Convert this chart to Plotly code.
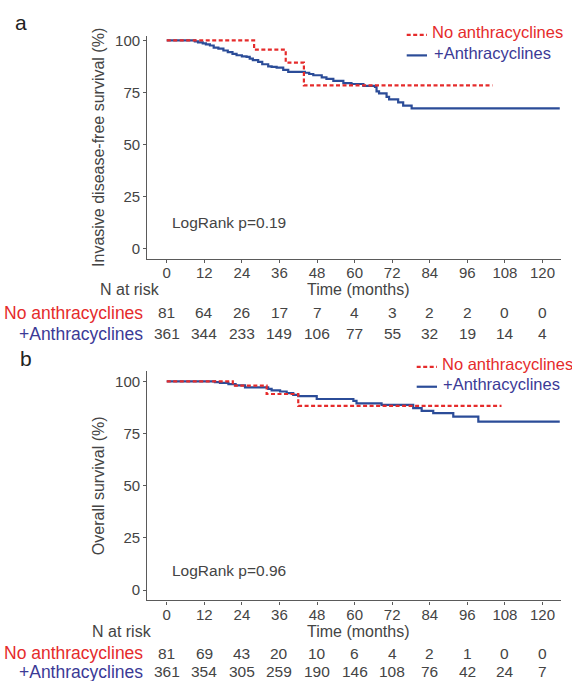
import plotly.graph_objects as go

W, H = 572, 681
FONT = "Liberation Sans, Arial, sans-serif"
RED = "#e52b2b"
BLUE_LINE = "#2b4c98"
BLUE_TXT = "#3b3a96"
GREY = "#444444"

# ---------------- data ----------------
tick_months = [0, 12, 24, 36, 48, 60, 72, 84, 96, 108, 120]

# Panel a: invasive disease-free survival
a_no_t = [0, 27.9, 38.0, 43.8, 104.0]
a_no_s = [100, 95.5, 89.3, 78.3, 78.3]
a_anth_t = [0, 9.0, 10.0, 11.5, 12.5, 13.8, 15.0, 16.5, 18.1, 19.5, 21.0, 22.3, 24.0,
            25.5, 26.5, 27.5, 29.2, 30.5, 32.4, 33.5, 35.1, 37.2, 38.8, 44.1, 45.5,
            46.8, 49.5, 51.0, 53.2, 56.4, 59.0, 62.8, 66.5, 67.0, 67.8, 70.2, 71.0,
            73.9, 75.5, 78.2, 125.5]
a_anth_s = [100, 99.5, 99.0, 98.5, 98.0, 97.5, 96.5, 96.0, 95.1, 94.3, 93.5, 92.8, 92.3,
            92.0, 91.2, 90.5, 89.6, 88.5, 87.5, 87.2, 86.9, 85.8, 84.8, 84.4, 83.8,
            83.2, 82.2, 81.5, 80.5, 79.4, 79.0, 78.1, 77.6, 75.5, 74.5, 72.8, 71.6,
            70.2, 68.6, 67.3, 67.3]

# Panel b: overall survival
b_no_t = [0, 21.1, 31.9, 42.0, 106.9]
b_no_s = [100, 97.9, 93.9, 88.2, 88.2]
b_anth_t = [0, 15.4, 17.0, 19.7, 22.0, 25.0, 32.4, 33.5, 36.2, 38.3, 40.4, 42.0, 47.9,
            59.6, 60.6, 68.6, 78.7, 81.4, 85.1, 91.5, 99.5, 125.5]
b_anth_s = [100, 99.6, 99.2, 98.6, 98.0, 97.1, 96.4, 95.6, 95.1, 94.3, 93.5, 92.9, 91.5,
            90.6, 89.4, 88.7, 87.1, 85.8, 84.7, 83.1, 80.7, 80.7]

risk_a_no = [81, 64, 26, 17, 7, 4, 3, 2, 2, 0, 0]
risk_a_anth = [361, 344, 233, 149, 106, 77, 55, 32, 19, 14, 4]
risk_b_no = [81, 69, 43, 20, 10, 6, 4, 2, 1, 0, 0]
risk_b_anth = [361, 354, 305, 259, 190, 146, 108, 76, 42, 24, 7]

group_names = ["No anthracyclines", "+Anthracyclines"]
y_titles = ["Invasive disease-free survival (%)", "Overall survival (%)"]
pvals = ["LogRank p=0.19", "LogRank p=0.96"]

# ---------------- helpers ----------------
def px(x):
    return x / W

def py(y):
    return 1 - y / H

fig = go.Figure()

def km(t, s, color, dash, xa, ya):
    fig.add_trace(go.Scatter(
        x=t, y=s, mode="lines", line_shape="hv",
        line=dict(color=color, width=2.2, dash=dash),
        xaxis=xa, yaxis=ya, showlegend=False, hoverinfo="skip"))

km(a_anth_t, a_anth_s, BLUE_LINE, "solid", "x", "y")
km(a_no_t, a_no_s, RED, "4px,2.5px", "x", "y")
km(b_anth_t, b_anth_s, BLUE_LINE, "solid", "x2", "y2")
km(b_no_t, b_no_s, RED, "4px,2.5px", "x2", "y2")

axis_common = dict(
    showline=True, linecolor="#5a5a5a", linewidth=1.3, showgrid=False, zeroline=False,
    ticks="outside", ticklen=3, tickwidth=1, tickcolor="#5a5a5a",
    tickfont=dict(family=FONT, size=15, color=GREY), mirror=False,
)

xdom = [px(147.3), px(560.7)]
panels = [
    (31.7, 256.7, [-5.11, 102.29]),
    (369.3, 600.0, [-5.0, 104.86]),
]

fig.update_layout(
    xaxis=dict(domain=xdom, range=[-6.2, 125.8], tickvals=tick_months, anchor="y",
               ticklabelstandoff=-3, **axis_common),
    yaxis=dict(domain=[py(panels[0][1]), py(panels[0][0])], range=panels[0][2],
               tickvals=[0, 25, 50, 75, 100], anchor="x",
               title=dict(text=y_titles[0], font=dict(family=FONT, size=16, color=GREY), standoff=6),
               **axis_common),
    xaxis2=dict(domain=xdom, range=[-6.2, 125.8], tickvals=tick_months, anchor="y2",
                ticklabelstandoff=-3, **axis_common),
    yaxis2=dict(domain=[py(panels[1][1]), py(panels[1][0])], range=panels[1][2],
                tickvals=[0, 25, 50, 75, 100], anchor="x2",
                title=dict(text=y_titles[1], font=dict(family=FONT, size=16, color=GREY), standoff=6),
                **axis_common),
)

ann = []
shapes = []
DY = -2.5  # glyph centre vs text box centre

def text(x, y, s, size, color=GREY, xanchor="center", xref="paper", dy=DY):
    ann.append(dict(x=x, y=py(y + dy), xref=xref, yref="paper", text=s, showarrow=False,
                    xanchor=xanchor, yanchor="middle",
                    font=dict(family=FONT, size=size, color=color)))

# panel letters
text(px(20.5), 18.4, "a", 21, "#222222", dy=0)
text(px(25.5), 356.7, "b", 21, "#222222", dy=0)

# p-values
text(px(170), 222.3, pvals[0], 15.5, GREY, "left")
text(px(170), 572.0, pvals[1], 15.5, GREY, "left")

# legends
leg = [
    (406.7, 427.0, 430.0, 31.0, 51.7),
    (416.7, 437.0, 439.5, 365.0, 385.0),
]
for x0, x1, tx, yn, ya in leg:
    shapes.append(dict(type="line", xref="paper", yref="paper", x0=px(x0), x1=px(x1),
                       y0=py(yn), y1=py(yn), line=dict(color=RED, width=2.2, dash="4px,2.5px")))
    shapes.append(dict(type="line", xref="paper", yref="paper", x0=px(x0), x1=px(x1),
                       y0=py(ya), y1=py(ya), line=dict(color=BLUE_LINE, width=2.2)))
    text(px(tx), yn, group_names[0], 16.5, RED, "left")
    text(px(tx + 1.5), ya, group_names[1], 16.5, BLUE_TXT, "left")

# risk tables
tables = [
    ("x", 130.0, 290.0, 358.0, 313.3, 334.0, risk_a_no, risk_a_anth),
    ("x2", 122.0, 633.3, 358.0, 655.5, 674.0, risk_b_no, risk_b_anth),
]
for xr, nx, ny, tmx, y1, y2, rno, ranth in tables:
    text(px(nx), ny, "N at risk", 16, GREY)
    text(px(tmx), ny, "Time (months)", 16, GREY)
    text(px(145), y1, group_names[0], 17.5, RED, "right")
    text(px(145), y2, group_names[1], 17.5, BLUE_TXT, "right")
    for m, v1, v2 in zip(tick_months, rno, ranth):
        text(m, y1, str(v1), 15.5, GREY, "center", xr)
        text(m, y2, str(v2), 15.5, GREY, "center", xr)

fig.update_layout(
    width=W, height=H, autosize=False,
    margin=dict(l=0, r=0, t=0, b=0, pad=0),
    paper_bgcolor="white", plot_bgcolor="white",
    annotations=ann, shapes=shapes, showlegend=False,
    font=dict(family=FONT),
)

fig.write_html("out.html", config={"displayModeBar": False},
               post_script="document.body.style.margin='0';")
